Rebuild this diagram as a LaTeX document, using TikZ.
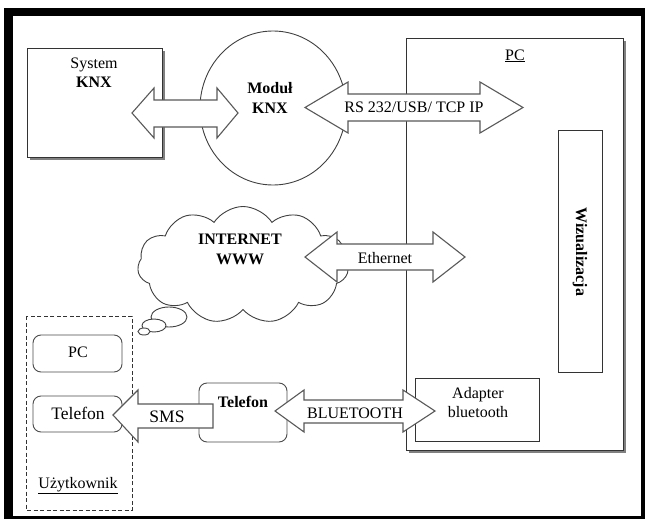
\documentclass[tikz,border=0pt]{standalone}
\usepackage{fontspec}
\setmainfont{Liberation Serif}
\usetikzlibrary{shapes.symbols,shapes.geometric}
\begin{document}
\begin{tikzpicture}[x=1pt,y=-1pt,
  txt/.style={font=\fontsize{16}{19}\selectfont, inner sep=0pt, anchor=base},
  btxt/.style={txt, font=\fontsize{16}{19}\selectfont\bfseries},
  bigtxt/.style={txt, font=\fontsize{17.5}{20}\selectfont},
  bx/.style={draw=black!80, line width=0.9pt, fill=white},
  shade/.style={fill=black!50},
  rbx/.style={draw=black!70, line width=0.9pt, fill=white, rounded corners=8pt},
  blk/.style={draw=black!65, line width=1.1pt, fill=white, line join=miter},
  dbox/.style={draw=black!80, line width=0.9pt, dashed, dash pattern=on 4pt off 2.5pt},
]
\useasboundingbox (0,0) rectangle (645,519);
% outer frame
\fill[black] (4,8) rectangle (645,519);
\fill[white] (13,16) rectangle (641,516);

% System KNX box
\fill[shade] (30,51) rectangle (165,160);
\draw[bx] (27,48) rectangle (162,157);
% PC box
\fill[shade] (409,41) rectangle (626,453);
\draw[bx] (406,38) rectangle (623,450);
% Wizualizacja
\draw[bx] (558,130) rectangle (602,372);
% Adapter bluetooth
\draw[bx] (415,378) rectangle (539,441);
% Modul circle
\draw[draw=black!75, line width=0.9pt, fill=white] (273,108) ellipse [x radius=73, y radius=77];
% cloud
\node[cloud, draw=black!75, line width=0.9pt, fill=white, cloud puffs=11, cloud puff arc=115,
      aspect=1.8, minimum width=211pt, minimum height=117pt, inner sep=0pt] (cloud) at (243,265) {};
\draw[draw=black!75, line width=0.9pt, fill=white] (169,317) ellipse [x radius=18, y radius=10];
\draw[draw=black!75, line width=0.9pt, fill=white] (154,325.5) ellipse [x radius=12, y radius=6.5];
\draw[draw=black!75, line width=0.9pt, fill=white] (144,331.5) ellipse [x radius=6, y radius=3.5];
% user area
\draw[dbox] (26,316) rectangle (132,510);
\draw[rbx] (33,335) rectangle (122,372);
\draw[rbx] (33,396) rectangle (122,432);
% middle phone
\draw[rbx] (199,383) rectangle (287,442);

% block arrows
\draw[blk] (132,113) -- (154,88) -- (154,100) -- (217,100) -- (217,88) -- (238,113)
  -- (217,138) -- (217,127) -- (154,127) -- (154,138) -- cycle;
\draw[blk] (305,107.5) -- (348,82) -- (348,94) -- (480,94) -- (480,82) -- (523,107.5)
  -- (480,133) -- (480,121) -- (348,121) -- (348,133) -- cycle;
\draw[blk] (305,257) -- (337,232) -- (337,244) -- (433,244) -- (433,232) -- (465,257)
  -- (433,282) -- (433,270) -- (337,270) -- (337,282) -- cycle;
\draw[blk] (275,411) -- (304,390) -- (304,400) -- (403,400) -- (403,390) -- (435,411)
  -- (403,432) -- (403,423) -- (304,423) -- (304,432) -- cycle;
\draw[blk] (113,415) -- (138,390) -- (138,404) -- (213,404) -- (213,428) -- (138,428)
  -- (138,442) -- cycle;

% texts
\node[txt] (sys1) at (94,68) {System};
\node[btxt] (sys2) at (94,87) {KNX};
\node[btxt] (mod1) at (270,93) {Moduł};
\node[btxt] (mod2) at (270,113) {KNX};
\node[txt] (rs) at (414,112) {RS 232/USB/ TCP IP};
\node[txt] (pc) at (515,60) {\underline{PC}};
\node[btxt] (inet1) at (240,244) {INTERNET};
\node[btxt] (inet2) at (240,264) {WWW};
\node[txt] (eth) at (385,263) {Ethernet};
\node[btxt, anchor=center, rotate=-90] (wiz) at (580,252) {Wizualizacja};
\node[txt] (ad1) at (478,398) {Adapter};
\node[txt] (ad2) at (478,417) {bluetooth};
\node[txt] (bt) at (355,418) {BLUETOOTH};
\node[btxt] (tel) at (243,407) {Telefon};
\node[bigtxt] (sms) at (167,422) {SMS};
\node[bigtxt] (tel2) at (78,419) {Telefon};
\node[txt] (pc2) at (78,357) {PC};
\node[txt] (usr) at (78,488) {\underline{Użytkownik}};
\end{tikzpicture}
\end{document}
